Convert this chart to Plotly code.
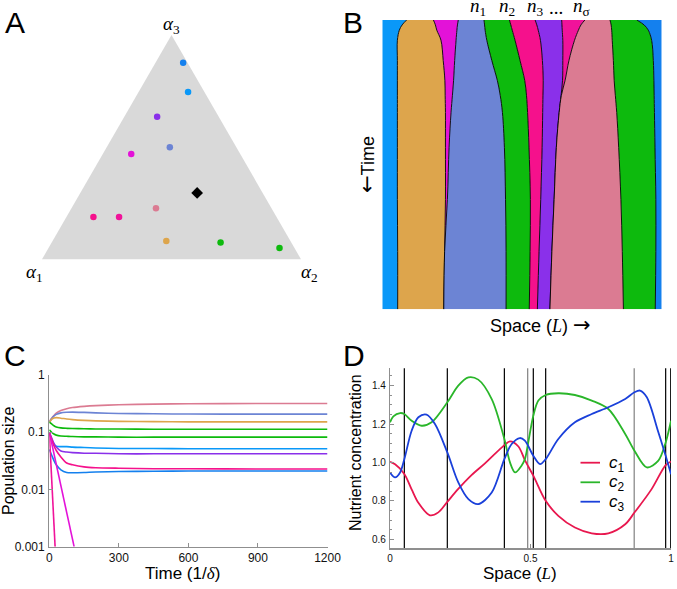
import plotly.graph_objects as go

W, H = 677, 589
def px(x): return x / W
def py(y): return 1 - y / H

SANS = "Liberation Sans, Arial, sans-serif"
SERIF = "Liberation Serif, DejaVu Serif, serif"

# ---------------- colours of species ----------------
COL = dict(blue1="#0A98F8", blue2="#1480EE", orange="#DDA54C", magenta="#E312D8",
           slate="#6C84D4", green="#0DBA0D", deeppink="#F5118C", purple="#8A30EA",
           pink2="#F0139A", rose="#DB7B92")

# ---------------- Panel A: trait simplex ----------------
a_names  = ["blue2", "blue1", "purple", "slate", "magenta", "rose", "deeppink", "pink2", "orange", "green", "green"]
alpha3   = [0.876, 0.746, 0.635, 0.499, 0.469, 0.228, 0.189, 0.189, 0.082, 0.075, 0.050]
alpha1   = [0.017, 0.063, 0.238, 0.257, 0.421, 0.446, 0.707, 0.608, 0.479, 0.273, 0.058]
alpha2   = [0.107, 0.191, 0.127, 0.244, 0.110, 0.326, 0.104, 0.203, 0.439, 0.652, 0.892]
supply_a, supply_b, supply_c = [0.296], [0.253], [0.451]

# ---------------- Panel B: spatial boundaries over time ----------------
b_time = [0, 0.017, 0.035, 0.07, 0.14, 0.21, 0.26, 0.32, 0.44, 0.62, 0.8, 1.0]
b_edges = [0.0, 1.0]
b1  = [0.087, 0.071, 0.061, 0.054, 0.054, 0.054, 0.054, 0.054, 0.054, 0.054, 0.055, 0.055]
b2  = [0.183, 0.190, 0.195, 0.210, 0.218, 0.224, 0.225, 0.226, 0.226, 0.226, 0.223, 0.220]
b3  = [0.272, 0.269, 0.267, 0.264, 0.259, 0.255, 0.251, 0.246, 0.239, 0.233, 0.223, 0.220]
b4  = [0.364, 0.366, 0.368, 0.374, 0.392, 0.412, 0.422, 0.430, 0.437, 0.441, 0.443, 0.443]
b5  = [0.455, 0.460, 0.465, 0.475, 0.493, 0.510, 0.516, 0.520, 0.525, 0.530, 0.529, 0.526]
b6  = [0.547, 0.553, 0.558, 0.566, 0.573, 0.576, 0.575, 0.574, 0.572, 0.567, 0.561, 0.555]
b7a = [0.642, 0.643, 0.644, 0.646, 0.646, 0.645, 0.640, 0.633, 0.623, 0.615, 0.607, 0.600]
b7b = [0.725, 0.711, 0.702, 0.688, 0.668, 0.654, 0.641, 0.633, 0.623, 0.615, 0.607, 0.600]
b8  = [0.815, 0.819, 0.821, 0.823, 0.827, 0.830, 0.834, 0.839, 0.846, 0.854, 0.859, 0.863]
b9  = [0.911, 0.937, 0.952, 0.964, 0.970, 0.972, 0.973, 0.974, 0.976, 0.979, 0.979, 0.977]
b_bounds = [b1, b2, b3, b4, b5, b6, b7a, b7b, b8, b9]
b_fill   = ["blue1", "orange", "magenta", "slate", "green", "deeppink", "purple", "pink2", "rose", "green"]
b_last_fill = "blue2"
b_top_labels = ["<i>n</i><sub>1</sub>", "<i>n</i><sub>2</sub>", "<i>n</i><sub>3</sub>", "...", "<i>n</i><sub>σ</sub>"]
b_top_label_x = [478, 507, 535, 556, 581]

# ---------------- Panel C: population dynamics ----------------
c_time = [0, 10, 20, 30, 50, 75, 100, 150, 200, 300, 450, 600, 900, 1200]
pop = {
    "rose":     [0.155, 0.175, 0.195, 0.215, 0.24, 0.258, 0.27, 0.283, 0.292, 0.302, 0.31, 0.314, 0.317, 0.318],
    "slate":    [0.15, 0.172, 0.192, 0.205, 0.218, 0.223, 0.225, 0.222, 0.218, 0.213, 0.21, 0.208, 0.207, 0.207],
    "orange":   [0.15, 0.168, 0.178, 0.18, 0.176, 0.17, 0.166, 0.161, 0.158, 0.155, 0.153, 0.152, 0.152, 0.152],
    "green1":   [0.15, 0.14, 0.13, 0.124, 0.119, 0.117, 0.116, 0.115, 0.114, 0.114, 0.113, 0.113, 0.113, 0.113],
    "green2":   [0.11, 0.1, 0.093, 0.089, 0.086, 0.085, 0.084, 0.083, 0.083, 0.082, 0.082, 0.082, 0.082, 0.082],
    "blue1":    [0.1, 0.075, 0.062, 0.057, 0.056, 0.056, 0.055, 0.054, 0.053, 0.052, 0.052, 0.0515, 0.0515, 0.0515],
    "purple":   [0.1, 0.08, 0.064, 0.055, 0.047, 0.045, 0.044, 0.043, 0.043, 0.042, 0.042, 0.042, 0.042, 0.042],
    "deeppink": [0.1, 0.075, 0.058, 0.048, 0.037, 0.029, 0.027, 0.0248, 0.024, 0.0235, 0.023, 0.023, 0.0228, 0.0228],
    "blue2":    [0.05, 0.04, 0.032, 0.027, 0.022, 0.0198, 0.0196, 0.0198, 0.0202, 0.0206, 0.0208, 0.021, 0.021, 0.021],
}
pop_col = {"rose": "rose", "slate": "slate", "orange": "orange", "green1": "green", "green2": "green",
           "blue1": "blue1", "purple": "purple", "deeppink": "deeppink", "blue2": "blue2"}
ext_magenta_t = [0, 50, 107]
ext_magenta_n = [0.1, 0.012, 0.001]
ext_pink2_t = [0, 25]
ext_pink2_n = [0.1, 0.001]

# ---------------- Panel D: nutrient profiles ----------------
s1 = [0, 0.018, 0.051, 0.077, 0.101, 0.142, 0.172, 0.204, 0.243, 0.291, 0.338, 0.407, 0.427, 0.457,
      0.480, 0.510, 0.554, 0.599, 0.658, 0.718, 0.777, 0.837, 0.870, 0.931, 0.981, 1.0]
conc1 = [1.003, 0.99, 0.94, 0.86, 0.79, 0.725, 0.74, 0.795, 0.862, 0.935, 0.995, 1.09, 1.11, 1.083,
         1.012, 0.931, 0.80, 0.722, 0.661, 0.631, 0.631, 0.678, 0.739, 0.861, 0.986, 1.005]
s2 = [0, 0.012, 0.036, 0.051, 0.077, 0.113, 0.148, 0.204, 0.243, 0.279, 0.314, 0.362, 0.407, 0.427,
      0.445, 0.468, 0.480, 0.492, 0.510, 0.528, 0.554, 0.599, 0.658, 0.718, 0.777, 0.837, 0.870,
      0.914, 0.955, 0.981, 1.0]
conc2 = [1.209, 1.24, 1.257, 1.252, 1.217, 1.191, 1.209, 1.313, 1.40, 1.443, 1.431, 1.33, 1.122, 1.0,
         0.948, 0.983, 1.017, 1.104, 1.243, 1.322, 1.351, 1.36, 1.351, 1.322, 1.278, 1.148, 1.061,
         0.974, 1.009, 1.104, 1.217]
s3 = [0, 0.018, 0.036, 0.051, 0.077, 0.101, 0.130, 0.160, 0.204, 0.243, 0.279, 0.314, 0.362, 0.407,
      0.433, 0.462, 0.480, 0.510, 0.534, 0.554, 0.599, 0.658, 0.718, 0.777, 0.837, 0.870, 0.890,
      0.914, 0.955, 0.981, 1.0]
conc3 = [0.948, 0.922, 0.948, 1.017, 1.165, 1.235, 1.249, 1.2, 1.052, 0.896, 0.809, 0.783, 0.843, 1.017,
         1.096, 1.127, 1.113, 1.035, 0.991, 1.017, 1.122, 1.209, 1.252, 1.287, 1.33, 1.365, 1.374,
         1.339, 1.157, 1.035, 0.939]
nutrient_names = ["c<sub>1</sub>", "c<sub>2</sub>", "c<sub>3</sub>"]
nutrient_cols = ["#E8174E", "#2AB62A", "#1A40DA"]
d_lines = [0.051, 0.204, 0.407, 0.490, 0.510, 0.554, 0.869, 0.981, 0.999]
d_line_cols = ["black", "black", "black", "#808080", "black", "black", "#808080", "black", "black"]

fig = go.Figure()

# ---- A ----
fig.add_trace(go.Scatterternary(a=alpha3, b=alpha1, c=alpha2, mode="markers",
                                marker=dict(color=[COL[n] for n in a_names], size=6.5),
                                subplot="ternary", showlegend=False, hoverinfo="skip"))
fig.add_trace(go.Scatterternary(a=supply_a, b=supply_b, c=supply_c, mode="markers",
                                marker=dict(color="black", size=9, symbol="diamond"),
                                subplot="ternary", showlegend=False, hoverinfo="skip"))

# ---- B ----
fig.add_trace(go.Scatter(x=[b_edges[0]] * 2, y=[b_time[0], b_time[-1]], mode="lines",
                         line=dict(width=0, color="black"), xaxis="x2", yaxis="y2",
                         showlegend=False, hoverinfo="skip"))
for bnd, fc in zip(b_bounds, b_fill):
    fig.add_trace(go.Scatter(x=bnd, y=b_time, mode="lines", fill="tonextx", fillcolor=COL[fc],
                             line=dict(width=0.9, color="black", shape="spline", smoothing=1.0),
                             xaxis="x2", yaxis="y2", showlegend=False, hoverinfo="skip"))
fig.add_trace(go.Scatter(x=[b_edges[1]] * 2, y=[b_time[0], b_time[-1]], mode="lines",
                         fill="tonextx", fillcolor=COL[b_last_fill],
                         line=dict(width=0, color="black"), xaxis="x2", yaxis="y2",
                         showlegend=False, hoverinfo="skip"))

# ---- C ----
for name, vals in pop.items():
    fig.add_trace(go.Scatter(x=c_time, y=vals, mode="lines",
                             line=dict(color=COL[pop_col[name]], width=1.6, shape="spline", smoothing=0.7),
                             xaxis="x3", yaxis="y3", showlegend=False, hoverinfo="skip"))
fig.add_trace(go.Scatter(x=ext_magenta_t, y=ext_magenta_n, mode="lines",
                         line=dict(color=COL["magenta"], width=1.6), xaxis="x3", yaxis="y3",
                         showlegend=False, hoverinfo="skip"))
fig.add_trace(go.Scatter(x=ext_pink2_t, y=ext_pink2_n, mode="lines",
                         line=dict(color=COL["pink2"], width=1.6), xaxis="x3", yaxis="y3",
                         showlegend=False, hoverinfo="skip"))

# ---- D ----
for s, cc, col in zip([s1, s2, s3], [conc1, conc2, conc3], nutrient_cols):
    fig.add_trace(go.Scatter(x=s, y=cc, mode="lines",
                             line=dict(color=col, width=1.8, shape="spline", smoothing=0.9),
                             xaxis="x4", yaxis="y4", showlegend=False, hoverinfo="skip"))

shapes = []
for xv, lc in zip(d_lines, d_line_cols):
    shapes.append(dict(type="line", xref="x4", yref="y4 domain", x0=xv, x1=xv, y0=0, y1=1,
                       line=dict(color=lc, width=1.2), layer="below"))
# legend for D (manual)
leg_y = [462.7, 482.3, 501.7]
annotations = []
for yy, col, nm in zip(leg_y, nutrient_cols, nutrient_names):
    shapes.append(dict(type="line", xref="paper", yref="paper", x0=px(580.5), x1=px(600),
                       y0=py(yy), y1=py(yy), line=dict(color=col, width=1.8)))
    annotations.append(dict(text="<i>" + nm.replace("<sub>", "</i><sub>"), xref="paper", yref="paper",
                            x=px(607), y=py(yy + 1), xanchor="left", yanchor="middle",
                            showarrow=False, font=dict(family=SANS, size=17, color="black")))

def ann(text, x, y, size, family=SANS, angle=0, xanchor="center"):
    annotations.append(dict(text=text, x=px(x), y=py(y), xref="paper", yref="paper",
                            xanchor=xanchor, yanchor="middle", showarrow=False, textangle=angle,
                            font=dict(family=family, size=size, color="black")))

ARROW = "<span style=\"font-family:'DejaVu Sans'; font-size:21px\">%s</span>"
ITAL = "<span style=\"font-family:'Liberation Serif'\"><i>%s</i></span>"

# panel letters
ann("A", 15.5, 22, 30)
ann("B", 352.5, 22, 30)
ann("C", 15, 355, 30)
ann("D", 353.5, 355, 30)
# simplex labels
ann("<i>α</i><sub>3</sub>", 171, 25, 19, SERIF)
ann("<i>α</i><sub>1</sub>", 34, 273, 19, SERIF)
ann("<i>α</i><sub>2</sub>", 309, 273, 19, SERIF)
# B labels
for lab, lx in zip(b_top_labels, b_top_label_x):
    ann(lab, lx, 7, 19, SERIF)
ann((ARROW % "←") + "Time", 367, 164, 18, SANS, angle=-90)
ann("Space (" + (ITAL % "L") + ") " + (ARROW % "→"), 540, 325, 18)
# C labels
ann("Population size", 9, 461, 16, SANS, angle=-90)
ann("Time (1/" + (ITAL % "δ") + ")", 182, 573, 17)
# D labels
ann("Nutrient concentration", 355, 453, 16, SANS, angle=-90)
ann("Space (" + (ITAL % "L") + ")", 520, 573, 17)

hidden = dict(showline=False, showgrid=False, showticklabels=False, ticks="", title=dict(text=""))
axc = dict(showline=True, linecolor="#8f8f8f", linewidth=1.2, ticks="inside", tickcolor="#8f8f8f",
           ticklen=4, showgrid=False, zeroline=False)

fig.update_layout(
    width=W, height=H, margin=dict(l=0, r=0, t=0, b=0),
    paper_bgcolor="white", plot_bgcolor="white", template="none",
    font=dict(family=SANS, color="black"),
    showlegend=False,
    ternary=dict(domain=dict(x=[px(42), px(301)], y=[py(259.3), py(35)]), bgcolor="#D9D9D9", sum=1,
                 aaxis=hidden, baxis=hidden, caxis=hidden),
    xaxis2=dict(domain=[px(382.3), px(661.7)], range=[0, 1], visible=False, anchor="y2"),
    yaxis2=dict(domain=[py(309.3), py(20)], range=[1, 0], visible=False, anchor="x2"),
    xaxis3=dict(domain=[px(49.3), px(327.5)], range=[0, 1200], anchor="y3",
                tickvals=[0, 300, 600, 900, 1200], ticktext=["0", "300", "600", "900", "1200"],
                tickfont=dict(size=12, color="#111"), **axc),
    yaxis3=dict(domain=[py(546.7), py(375)], type="log", range=[-3, 0], anchor="x3",
                tickvals=[0.001, 0.01, 0.1, 1], ticktext=["0.001", "0.01", "0.1", "1"],
                tickfont=dict(size=12, color="#111"), ticklabelstandoff=1, **axc),
    xaxis4=dict(domain=[px(390), px(671)], range=[0, 1.0], anchor="y4",
                tickvals=[0, 0.5, 1], ticktext=["0", "0.5", "1"],
                tickfont=dict(size=10, color="#111"), **axc),
    yaxis4=dict(domain=[py(548.3), py(368.3)], range=[0.553, 1.49], anchor="x4",
                tickvals=[0.6, 0.8, 1.0, 1.2, 1.4], ticktext=["0.6", "0.8", "1.0", "1.2", "1.4"],
                tickfont=dict(size=10, color="#111"), ticklabelstandoff=1,
                minor=dict(tick0=0.6, dtick=0.05, ticks="inside", ticklen=2, tickcolor="#8f8f8f"),
                **axc),
    shapes=shapes, annotations=annotations,
)

fig.write_html("out.html", config={"displayModeBar": False, "staticPlot": True},
               post_script="document.body.style.margin='0';document.body.style.overflow='hidden';")
